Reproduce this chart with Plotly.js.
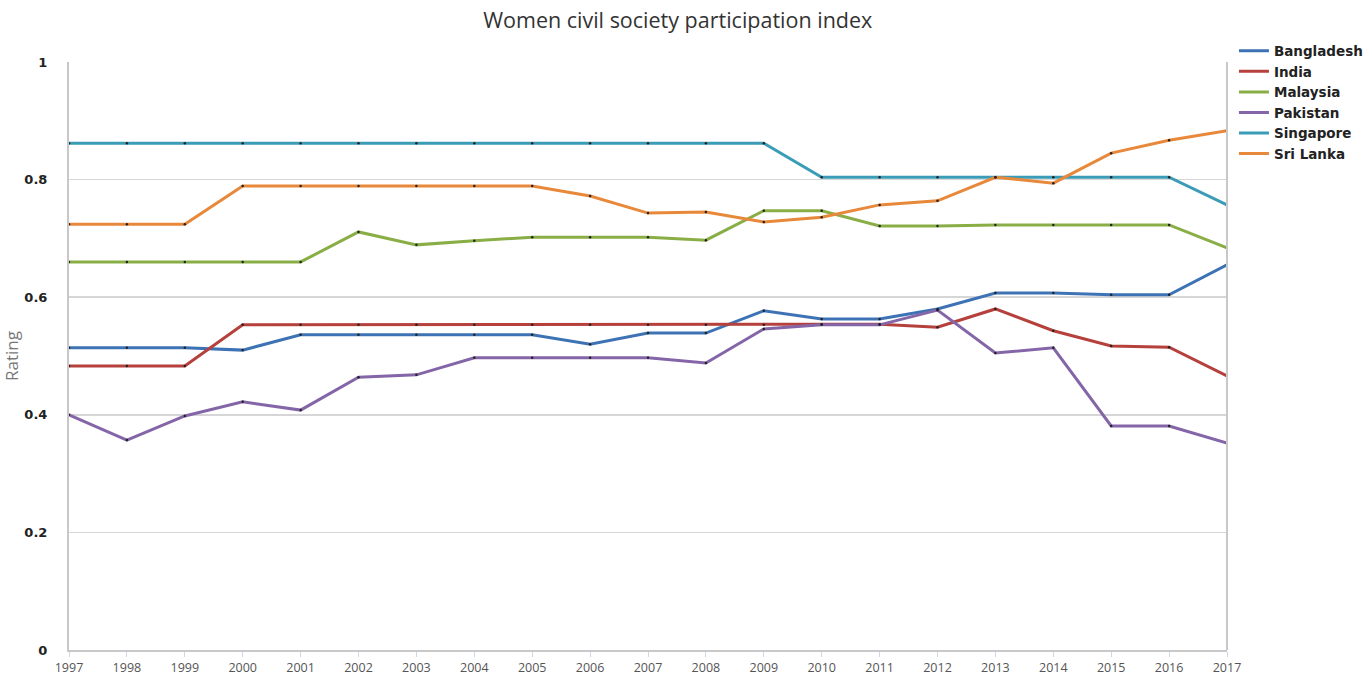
<!DOCTYPE html>
<html>
<head>
<meta charset="utf-8">
<script src="https://cdn.plot.ly/plotly-3.0.1.min.js"></script>
<style>html,body{margin:0;padding:0;background:#fff;}#chart{width:1372px;height:677px;}</style>
</head>
<body>
<div id="chart"></div>
<script>
const years = [1997,1998,1999,2000,2001,2002,2003,2004,2005,2006,2007,2008,2009,2010,2011,2012,2013,2014,2015,2016,2017];
const bangladesh = [0.514,0.514,0.514,0.510,0.536,0.536,0.536,0.536,0.536,0.520,0.539,0.539,0.577,0.563,0.563,0.580,0.607,0.607,0.604,0.604,0.655];
const india      = [0.483,0.483,0.483,0.553,0.553,0.553,0.553,0.553,0.553,0.553,0.553,0.553,0.553,0.554,0.554,0.549,0.580,0.543,0.517,0.515,0.466];
const malaysia   = [0.660,0.660,0.660,0.660,0.660,0.711,0.689,0.696,0.702,0.702,0.702,0.697,0.747,0.747,0.721,0.721,0.723,0.723,0.723,0.723,0.684];
const pakistan   = [0.400,0.357,0.398,0.422,0.408,0.464,0.468,0.497,0.497,0.497,0.497,0.488,0.546,0.553,0.553,0.578,0.505,0.514,0.381,0.381,0.352];
const singapore  = [0.862,0.862,0.862,0.862,0.862,0.862,0.862,0.862,0.862,0.862,0.862,0.862,0.862,0.804,0.804,0.804,0.804,0.804,0.804,0.804,0.757];
const sriLanka   = [0.724,0.724,0.724,0.789,0.789,0.789,0.789,0.789,0.789,0.772,0.743,0.745,0.728,0.736,0.757,0.764,0.804,0.794,0.845,0.867,0.883];

const seriesNames = ['Bangladesh','India','Malaysia','Pakistan','Singapore','Sri Lanka'];
const seriesData = [bangladesh, india, malaysia, pakistan, singapore, sriLanka];
const seriesColors = ['#3d73b5','#b5403c','#8aae46','#8466a8','#3a9cb6','#e8883a'];

const traces = [];
seriesNames.forEach((n,i)=>{
  traces.push({x: years, y: seriesData[i], name: n, type:'scatter', mode:'lines',
    line:{color: seriesColors[i], width:3}});
});
seriesNames.forEach((n,i)=>{
  traces.push({x: years, y: seriesData[i], name: n, type:'scatter', mode:'markers',
    showlegend:false, hoverinfo:'skip', marker:{color:'#222', size:2.5}});
});

const layout = {
  width:1372, height:677,
  margin:{l:69, r:145, t:62, b:27, autoexpand:false},
  paper_bgcolor:'#fff', plot_bgcolor:'#fff',
  font:{family:'"Open Sans", sans-serif', color:'#333'},
  title:{text:'Women civil society participation index', x:0.494, xref:'container', y:0.97, yref:'container', yanchor:'middle',
    font:{size:21.5, color:'#333', family:'"Open Sans", sans-serif'}},
  xaxis:{range:[1997,2017], tickvals: years, ticktext: years.map(String), showgrid:false, zeroline:false,
    showline:true, linecolor:'#c8c8c8', linewidth:2, mirror:false,
    ticks:'outside', ticklen:5, tickcolor:'#c8d8e8', tickwidth:1,
    tickfont:{size:12.5, color:'#555', family:'"Open Sans", sans-serif'}, fixedrange:true},
  yaxis:{range:[0,1], tickvals:[0,0.2,0.4,0.6,0.8,1], ticktext:['0','0.2','0.4','0.6','0.8','1'],
    showgrid:true, gridcolor:'#d6d6d6', gridwidth:1.5, zeroline:false,
    showline:true, linecolor:'#c8c8c8', linewidth:2,
    ticks:'outside', ticklen:17, tickcolor:'rgba(0,0,0,0)',
    tickfont:{size:13, color:'#222', family:'"DejaVu Sans", sans-serif', weight:700},
    title:{text:'Rating', standoff:8, font:{size:17, color:'#777', family:'"Open Sans", sans-serif'}}, fixedrange:true},
  shapes:[{type:'line', xref:'paper', yref:'paper', x0:1, x1:1, y0:0, y1:1, line:{color:'#c8c8c8', width:2}}],
  legend:{x:1.006, xanchor:'left', y:1.045, yanchor:'top', bgcolor:'rgba(0,0,0,0)',
    font:{size:13.5, color:'#222', family:'"DejaVu Sans", sans-serif', weight:700},
    tracegroupgap:0, itemwidth:30},
  showlegend:true
};
Plotly.newPlot('chart', traces, layout, {displayModeBar:false, staticPlot:true});
</script>
</body>
</html>
